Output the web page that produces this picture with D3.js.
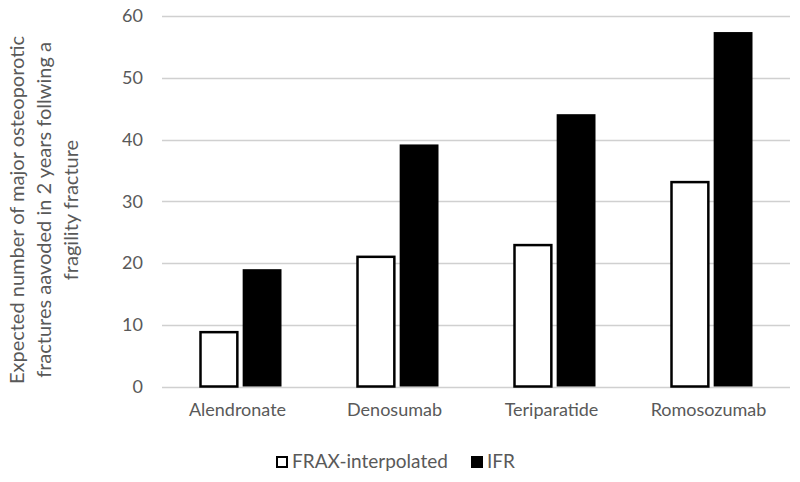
<!DOCTYPE html>
<html>
<head>
<meta charset="utf-8">
<script src="https://d3js.org/d3.v7.min.js"></script>
<style>
  body { margin: 0; background: #fff; }
  text { font-family: Lato, "Open Sans", sans-serif; fill: #595959; }
</style>
</head>
<body>
<div id="vis"></div>
<script>
// chart data
const categories = ["Alendronate", "Denosumab", "Teriparatide", "Romosozumab"];
const seriesNames = ["FRAX-interpolated", "IFR"];
const fraxValues = [8.8, 21, 22.9, 33.1];
const ifrValues = [19, 39.2, 44.1, 57.4];
const yTicks = [0, 10, 20, 30, 40, 50, 60];

let margin = { top: 16, left: 162, right: 10, bottom: 95 },
  width = 800 - margin.left - margin.right,
  height = 482 - margin.top - margin.bottom;

let svg = d3
  .select("#vis")
  .append("svg")
  .attr("width", 800)
  .attr("height", 482);

let g = svg.append("g").attr("transform", `translate(${margin.left},${margin.top})`);

let x = d3.scaleBand().domain(categories).range([0, 628]);
let xInner = d3.scaleBand().domain(seriesNames).range([0, 82]).paddingInner(0.1);
let y = d3.scaleLinear().domain([0, 60]).range([370.5, 0]);

// gridlines
g.selectAll(".grid")
  .data(yTicks)
  .enter()
  .append("line")
  .attr("x1", 0)
  .attr("x2", 628)
  .attr("y1", (d) => Math.round(y(d)) + 0.5)
  .attr("y2", (d) => Math.round(y(d)) + 0.5)
  .attr("stroke", "#d0d0d0")
  .attr("stroke-width", 1.5);

// y axis labels
let yAxis = g.append("g").call(d3.axisLeft(y).tickValues(yTicks).tickSize(0).tickPadding(19));
yAxis.select(".domain").remove();
yAxis.selectAll("text").style("font-size", "18px").attr("fill", "#595959");

// bars
const rows = categories.map((c, i) => ({ cat: c, vals: [fraxValues[i], ifrValues[i]] }));
let groups = g.selectAll(".cat")
  .data(rows)
  .enter()
  .append("g")
  .attr("transform", (d) => `translate(${x(d.cat) + (x.bandwidth() - 82) / 2},0)`);

groups.selectAll("rect")
  .data((d) => d.vals.map((v, i) => ({ name: seriesNames[i], v: v })))
  .enter()
  .append("rect")
  .attr("x", (d) => xInner(d.name) + (d.name === "IFR" ? 0 : 1))
  .attr("width", (d) => xInner.bandwidth() - (d.name === "IFR" ? 0 : 2))
  .attr("y", (d) => y(d.v))
  .attr("height", (d) => y(0) - y(d.v))
  .attr("fill", (d) => (d.name === "IFR" ? "#000" : "#fff"))
  .attr("stroke", (d) => (d.name === "IFR" ? "none" : "#000"))
  .attr("stroke-width", 2.5);

// category labels
let xAxis = g.append("g")
  .attr("transform", `translate(-3,${y(0)})`)
  .call(d3.axisBottom(x).tickSize(0).tickPadding(17));
xAxis.select(".domain").remove();
xAxis.selectAll("text").style("font-size", "18px").attr("fill", "#595959");

// y title
const titleLines = [
  "Expected number of major osteoporotic",
  "fractures aavoded in 2 years follwing a",
  "fragility fracture",
];
svg.append("text")
  .attr("transform", "translate(0,210) rotate(-90)")
  .attr("text-anchor", "middle")
  .style("font-size", "20px")
  .selectAll("tspan")
  .data(titleLines)
  .enter()
  .append("tspan")
  .attr("x", 0)
  .attr("y", (d, i) => 24 + i * 27)
  .text((d) => d);

// legend
const legendX = [276, 471];
let legend = svg.selectAll(".legend")
  .data(seriesNames)
  .enter()
  .append("g")
  .attr("transform", (d, i) => `translate(${legendX[i]},456)`);
legend.append("rect")
  .attr("x", 1)
  .attr("y", 1)
  .attr("width", 10)
  .attr("height", 10)
  .attr("fill", (d) => (d === "IFR" ? "#000" : "#fff"))
  .attr("stroke", "#000")
  .attr("stroke-width", 2);
legend.append("text")
  .attr("x", 16)
  .attr("y", 12)
  .style("font-size", "19px")
  .text((d) => d);
</script>
</body>
</html>
